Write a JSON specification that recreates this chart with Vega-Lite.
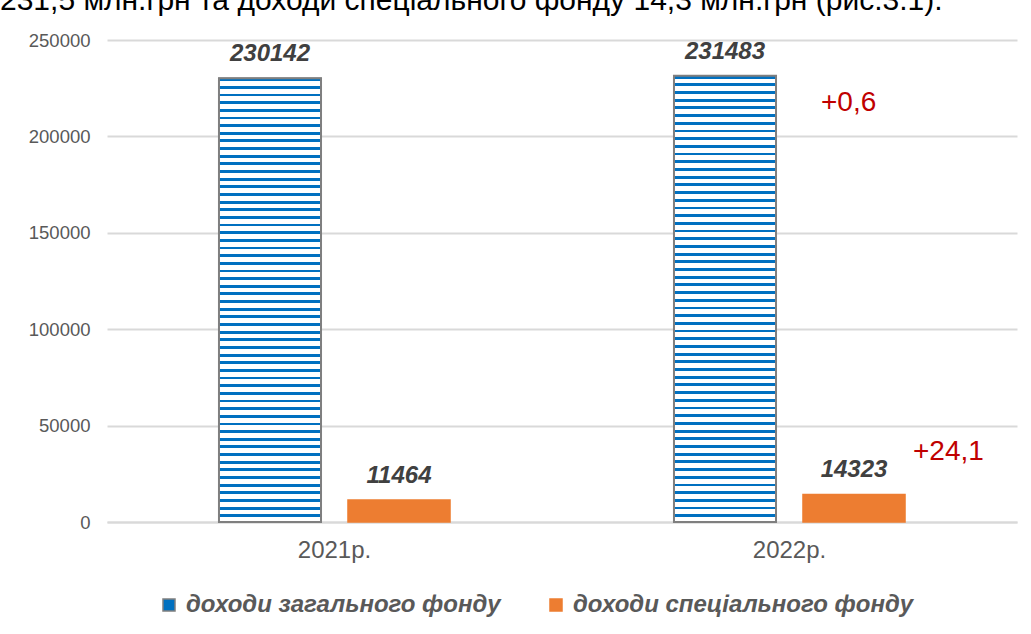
{
  "$schema": "https://vega.github.io/schema/vega-lite/v6.json",
  "autosize": {"type": "none"},
  "width": 910,
  "height": 482,
  "padding": {"left": 107, "top": 40, "right": 14, "bottom": 112},
  "background": "#ffffff",
  "config": {
    "view": {"stroke": null},
    "font": "Liberation Sans",
    "axis": {"labelFont": "Liberation Sans", "labelColor": "#595959"}
  },
  "title": {
    "text": "231,5 млн.грн  та доходи спеціального фонду  14,3 млн.грн (рис.3.1).",
    "anchor": "start",
    "frame": "group",
    "dx": -107,
    "offset": -9,
    "baseline": "alphabetic",
    "font": "Liberation Sans",
    "fontSize": 30,
    "fontWeight": "normal",
    "color": "#000000"
  },
  "data": {
    "values": [
      {"year": "2021р.", "series": "доходи загального фонду", "value": 230142},
      {"year": "2021р.", "series": "доходи спеціального фонду", "value": 11464},
      {"year": "2022р.", "series": "доходи загального фонду", "value": 231483, "change": "+0,6"},
      {"year": "2022р.", "series": "доходи спеціального фонду", "value": 14323, "change": "+24,1"}
    ]
  },
  "encoding": {
    "x": {
      "field": "year", "type": "nominal", "title": null,
      "scale": {"paddingInner": 0, "paddingOuter": 0},
      "axis": {"labelAngle": 0, "labelFontSize": 24, "labelPadding": 16, "ticks": false, "domainColor": "#d9d9d9", "domainWidth": 2, "grid": false}
    },
    "xOffset": {
      "field": "series", "type": "nominal",
      "scale": {"paddingInner": 0.209, "paddingOuter": 0.868}
    },
    "y": {
      "field": "value", "type": "quantitative", "title": null,
      "scale": {"domain": [0, 250000], "nice": false},
      "axis": {"values": [0, 50000, 100000, 150000, 200000, 250000], "format": "d", "labelFontSize": 18.5, "labelPadding": 17, "ticks": false, "domain": false, "gridColor": "#d9d9d9", "gridWidth": 2}
    }
  },
  "layer": [
    {
      "mark": {"type": "bar", "strokeWidth": 1.5},
      "encoding": {
        "color": {
          "field": "series", "type": "nominal",
          "scale": {"domain": ["доходи загального фонду", "доходи спеціального фонду"], "range": ["#0070c0", "#ed7d31"]},
          "legend": {
            "orient": "none", "direction": "horizontal", "title": null,
            "legendX": 50, "legendY": 553,
            "symbolType": "square", "symbolSize": 144, "symbolStrokeWidth": 1.5,
            "labelFont": "Liberation Sans", "labelFontSize": 24, "labelFontWeight": "bold", "labelFontStyle": "italic",
            "labelColor": "#595959", "labelOffset": 5, "columnPadding": 43, "labelLimit": 500
          }
        },
        "stroke": {
          "field": "series", "type": "nominal",
          "scale": {"domain": ["доходи загального фонду", "доходи спеціального фонду"], "range": ["#7f7f7f", "#ed7d31"]},
          "legend": null
        }
      }
    },
    {
      "transform": [{"filter": "datum.series === 'доходи загального фонду'"}],
      "mark": {
        "type": "bar",
        "stroke": "#7f7f7f",
        "strokeWidth": 2,
        "fill": {
          "gradient": "linear", "x1": 0, "y1": 0, "x2": 0, "y2": 1,
          "stops": [
            {"offset": 0, "color": "#0070c0"}, {"offset": 0.00638, "color": "#0070c0"}, {"offset": 0.00638, "color": "#ffffff"}, {"offset": 0.017241, "color": "#ffffff"},
            {"offset": 0.017241, "color": "#0070c0"}, {"offset": 0.02362, "color": "#0070c0"}, {"offset": 0.02362, "color": "#ffffff"}, {"offset": 0.034483, "color": "#ffffff"},
            {"offset": 0.034483, "color": "#0070c0"}, {"offset": 0.04086, "color": "#0070c0"}, {"offset": 0.04086, "color": "#ffffff"}, {"offset": 0.051724, "color": "#ffffff"},
            {"offset": 0.051724, "color": "#0070c0"}, {"offset": 0.05810, "color": "#0070c0"}, {"offset": 0.05810, "color": "#ffffff"}, {"offset": 0.068966, "color": "#ffffff"},
            {"offset": 0.068966, "color": "#0070c0"}, {"offset": 0.07535, "color": "#0070c0"}, {"offset": 0.07535, "color": "#ffffff"}, {"offset": 0.086207, "color": "#ffffff"},
            {"offset": 0.086207, "color": "#0070c0"}, {"offset": 0.09259, "color": "#0070c0"}, {"offset": 0.09259, "color": "#ffffff"}, {"offset": 0.103448, "color": "#ffffff"},
            {"offset": 0.103448, "color": "#0070c0"}, {"offset": 0.10983, "color": "#0070c0"}, {"offset": 0.10983, "color": "#ffffff"}, {"offset": 0.120690, "color": "#ffffff"},
            {"offset": 0.120690, "color": "#0070c0"}, {"offset": 0.12707, "color": "#0070c0"}, {"offset": 0.12707, "color": "#ffffff"}, {"offset": 0.137931, "color": "#ffffff"},
            {"offset": 0.137931, "color": "#0070c0"}, {"offset": 0.14431, "color": "#0070c0"}, {"offset": 0.14431, "color": "#ffffff"}, {"offset": 0.155172, "color": "#ffffff"},
            {"offset": 0.155172, "color": "#0070c0"}, {"offset": 0.16155, "color": "#0070c0"}, {"offset": 0.16155, "color": "#ffffff"}, {"offset": 0.172414, "color": "#ffffff"},
            {"offset": 0.172414, "color": "#0070c0"}, {"offset": 0.17879, "color": "#0070c0"}, {"offset": 0.17879, "color": "#ffffff"}, {"offset": 0.189655, "color": "#ffffff"},
            {"offset": 0.189655, "color": "#0070c0"}, {"offset": 0.19604, "color": "#0070c0"}, {"offset": 0.19604, "color": "#ffffff"}, {"offset": 0.206897, "color": "#ffffff"},
            {"offset": 0.206897, "color": "#0070c0"}, {"offset": 0.21328, "color": "#0070c0"}, {"offset": 0.21328, "color": "#ffffff"}, {"offset": 0.224138, "color": "#ffffff"},
            {"offset": 0.224138, "color": "#0070c0"}, {"offset": 0.23052, "color": "#0070c0"}, {"offset": 0.23052, "color": "#ffffff"}, {"offset": 0.241379, "color": "#ffffff"},
            {"offset": 0.241379, "color": "#0070c0"}, {"offset": 0.24776, "color": "#0070c0"}, {"offset": 0.24776, "color": "#ffffff"}, {"offset": 0.258621, "color": "#ffffff"},
            {"offset": 0.258621, "color": "#0070c0"}, {"offset": 0.26500, "color": "#0070c0"}, {"offset": 0.26500, "color": "#ffffff"}, {"offset": 0.275862, "color": "#ffffff"},
            {"offset": 0.275862, "color": "#0070c0"}, {"offset": 0.28224, "color": "#0070c0"}, {"offset": 0.28224, "color": "#ffffff"}, {"offset": 0.293103, "color": "#ffffff"},
            {"offset": 0.293103, "color": "#0070c0"}, {"offset": 0.29948, "color": "#0070c0"}, {"offset": 0.29948, "color": "#ffffff"}, {"offset": 0.310345, "color": "#ffffff"},
            {"offset": 0.310345, "color": "#0070c0"}, {"offset": 0.31672, "color": "#0070c0"}, {"offset": 0.31672, "color": "#ffffff"}, {"offset": 0.327586, "color": "#ffffff"},
            {"offset": 0.327586, "color": "#0070c0"}, {"offset": 0.33397, "color": "#0070c0"}, {"offset": 0.33397, "color": "#ffffff"}, {"offset": 0.344828, "color": "#ffffff"},
            {"offset": 0.344828, "color": "#0070c0"}, {"offset": 0.35121, "color": "#0070c0"}, {"offset": 0.35121, "color": "#ffffff"}, {"offset": 0.362069, "color": "#ffffff"},
            {"offset": 0.362069, "color": "#0070c0"}, {"offset": 0.36845, "color": "#0070c0"}, {"offset": 0.36845, "color": "#ffffff"}, {"offset": 0.379310, "color": "#ffffff"},
            {"offset": 0.379310, "color": "#0070c0"}, {"offset": 0.38569, "color": "#0070c0"}, {"offset": 0.38569, "color": "#ffffff"}, {"offset": 0.396552, "color": "#ffffff"},
            {"offset": 0.396552, "color": "#0070c0"}, {"offset": 0.40293, "color": "#0070c0"}, {"offset": 0.40293, "color": "#ffffff"}, {"offset": 0.413793, "color": "#ffffff"},
            {"offset": 0.413793, "color": "#0070c0"}, {"offset": 0.42017, "color": "#0070c0"}, {"offset": 0.42017, "color": "#ffffff"}, {"offset": 0.431034, "color": "#ffffff"},
            {"offset": 0.431034, "color": "#0070c0"}, {"offset": 0.43741, "color": "#0070c0"}, {"offset": 0.43741, "color": "#ffffff"}, {"offset": 0.448276, "color": "#ffffff"},
            {"offset": 0.448276, "color": "#0070c0"}, {"offset": 0.45466, "color": "#0070c0"}, {"offset": 0.45466, "color": "#ffffff"}, {"offset": 0.465517, "color": "#ffffff"},
            {"offset": 0.465517, "color": "#0070c0"}, {"offset": 0.47190, "color": "#0070c0"}, {"offset": 0.47190, "color": "#ffffff"}, {"offset": 0.482759, "color": "#ffffff"},
            {"offset": 0.482759, "color": "#0070c0"}, {"offset": 0.48914, "color": "#0070c0"}, {"offset": 0.48914, "color": "#ffffff"}, {"offset": 0.500000, "color": "#ffffff"},
            {"offset": 0.500000, "color": "#0070c0"}, {"offset": 0.50638, "color": "#0070c0"}, {"offset": 0.50638, "color": "#ffffff"}, {"offset": 0.517241, "color": "#ffffff"},
            {"offset": 0.517241, "color": "#0070c0"}, {"offset": 0.52362, "color": "#0070c0"}, {"offset": 0.52362, "color": "#ffffff"}, {"offset": 0.534483, "color": "#ffffff"},
            {"offset": 0.534483, "color": "#0070c0"}, {"offset": 0.54086, "color": "#0070c0"}, {"offset": 0.54086, "color": "#ffffff"}, {"offset": 0.551724, "color": "#ffffff"},
            {"offset": 0.551724, "color": "#0070c0"}, {"offset": 0.55810, "color": "#0070c0"}, {"offset": 0.55810, "color": "#ffffff"}, {"offset": 0.568966, "color": "#ffffff"},
            {"offset": 0.568966, "color": "#0070c0"}, {"offset": 0.57535, "color": "#0070c0"}, {"offset": 0.57535, "color": "#ffffff"}, {"offset": 0.586207, "color": "#ffffff"},
            {"offset": 0.586207, "color": "#0070c0"}, {"offset": 0.59259, "color": "#0070c0"}, {"offset": 0.59259, "color": "#ffffff"}, {"offset": 0.603448, "color": "#ffffff"},
            {"offset": 0.603448, "color": "#0070c0"}, {"offset": 0.60983, "color": "#0070c0"}, {"offset": 0.60983, "color": "#ffffff"}, {"offset": 0.620690, "color": "#ffffff"},
            {"offset": 0.620690, "color": "#0070c0"}, {"offset": 0.62707, "color": "#0070c0"}, {"offset": 0.62707, "color": "#ffffff"}, {"offset": 0.637931, "color": "#ffffff"},
            {"offset": 0.637931, "color": "#0070c0"}, {"offset": 0.64431, "color": "#0070c0"}, {"offset": 0.64431, "color": "#ffffff"}, {"offset": 0.655172, "color": "#ffffff"},
            {"offset": 0.655172, "color": "#0070c0"}, {"offset": 0.66155, "color": "#0070c0"}, {"offset": 0.66155, "color": "#ffffff"}, {"offset": 0.672414, "color": "#ffffff"},
            {"offset": 0.672414, "color": "#0070c0"}, {"offset": 0.67879, "color": "#0070c0"}, {"offset": 0.67879, "color": "#ffffff"}, {"offset": 0.689655, "color": "#ffffff"},
            {"offset": 0.689655, "color": "#0070c0"}, {"offset": 0.69604, "color": "#0070c0"}, {"offset": 0.69604, "color": "#ffffff"}, {"offset": 0.706897, "color": "#ffffff"},
            {"offset": 0.706897, "color": "#0070c0"}, {"offset": 0.71328, "color": "#0070c0"}, {"offset": 0.71328, "color": "#ffffff"}, {"offset": 0.724138, "color": "#ffffff"},
            {"offset": 0.724138, "color": "#0070c0"}, {"offset": 0.73052, "color": "#0070c0"}, {"offset": 0.73052, "color": "#ffffff"}, {"offset": 0.741379, "color": "#ffffff"},
            {"offset": 0.741379, "color": "#0070c0"}, {"offset": 0.74776, "color": "#0070c0"}, {"offset": 0.74776, "color": "#ffffff"}, {"offset": 0.758621, "color": "#ffffff"},
            {"offset": 0.758621, "color": "#0070c0"}, {"offset": 0.76500, "color": "#0070c0"}, {"offset": 0.76500, "color": "#ffffff"}, {"offset": 0.775862, "color": "#ffffff"},
            {"offset": 0.775862, "color": "#0070c0"}, {"offset": 0.78224, "color": "#0070c0"}, {"offset": 0.78224, "color": "#ffffff"}, {"offset": 0.793103, "color": "#ffffff"},
            {"offset": 0.793103, "color": "#0070c0"}, {"offset": 0.79948, "color": "#0070c0"}, {"offset": 0.79948, "color": "#ffffff"}, {"offset": 0.810345, "color": "#ffffff"},
            {"offset": 0.810345, "color": "#0070c0"}, {"offset": 0.81672, "color": "#0070c0"}, {"offset": 0.81672, "color": "#ffffff"}, {"offset": 0.827586, "color": "#ffffff"},
            {"offset": 0.827586, "color": "#0070c0"}, {"offset": 0.83397, "color": "#0070c0"}, {"offset": 0.83397, "color": "#ffffff"}, {"offset": 0.844828, "color": "#ffffff"},
            {"offset": 0.844828, "color": "#0070c0"}, {"offset": 0.85121, "color": "#0070c0"}, {"offset": 0.85121, "color": "#ffffff"}, {"offset": 0.862069, "color": "#ffffff"},
            {"offset": 0.862069, "color": "#0070c0"}, {"offset": 0.86845, "color": "#0070c0"}, {"offset": 0.86845, "color": "#ffffff"}, {"offset": 0.879310, "color": "#ffffff"},
            {"offset": 0.879310, "color": "#0070c0"}, {"offset": 0.88569, "color": "#0070c0"}, {"offset": 0.88569, "color": "#ffffff"}, {"offset": 0.896552, "color": "#ffffff"},
            {"offset": 0.896552, "color": "#0070c0"}, {"offset": 0.90293, "color": "#0070c0"}, {"offset": 0.90293, "color": "#ffffff"}, {"offset": 0.913793, "color": "#ffffff"},
            {"offset": 0.913793, "color": "#0070c0"}, {"offset": 0.92017, "color": "#0070c0"}, {"offset": 0.92017, "color": "#ffffff"}, {"offset": 0.931034, "color": "#ffffff"},
            {"offset": 0.931034, "color": "#0070c0"}, {"offset": 0.93741, "color": "#0070c0"}, {"offset": 0.93741, "color": "#ffffff"}, {"offset": 0.948276, "color": "#ffffff"},
            {"offset": 0.948276, "color": "#0070c0"}, {"offset": 0.95466, "color": "#0070c0"}, {"offset": 0.95466, "color": "#ffffff"}, {"offset": 0.965517, "color": "#ffffff"},
            {"offset": 0.965517, "color": "#0070c0"}, {"offset": 0.97190, "color": "#0070c0"}, {"offset": 0.97190, "color": "#ffffff"}, {"offset": 0.982759, "color": "#ffffff"},
            {"offset": 0.982759, "color": "#0070c0"}, {"offset": 0.98914, "color": "#0070c0"}, {"offset": 0.98914, "color": "#ffffff"}, {"offset": 1, "color": "#ffffff"}
          ]
        }
      }
    },
    {
      "mark": {"type": "text", "baseline": "alphabetic", "dy": -17, "font": "Liberation Sans", "fontSize": 24, "fontWeight": "bold", "fontStyle": "italic", "color": "#404040"},
      "encoding": {"text": {"field": "value", "type": "quantitative", "format": "d"}}
    },
    {
      "transform": [{"filter": "datum.change && datum.series === 'доходи загального фонду'"}],
      "mark": {"type": "text", "align": "left", "baseline": "middle", "dx": 96, "dy": 27, "font": "Liberation Sans", "fontSize": 28, "color": "#c00000"},
      "encoding": {"text": {"field": "change", "type": "nominal"}}
    },
    {
      "transform": [{"filter": "datum.change && datum.series === 'доходи спеціального фонду'"}],
      "mark": {"type": "text", "align": "left", "baseline": "middle", "dx": 59, "dy": -42, "font": "Liberation Sans", "fontSize": 28, "color": "#c00000"},
      "encoding": {"text": {"field": "change", "type": "nominal"}}
    }
  ]
}
